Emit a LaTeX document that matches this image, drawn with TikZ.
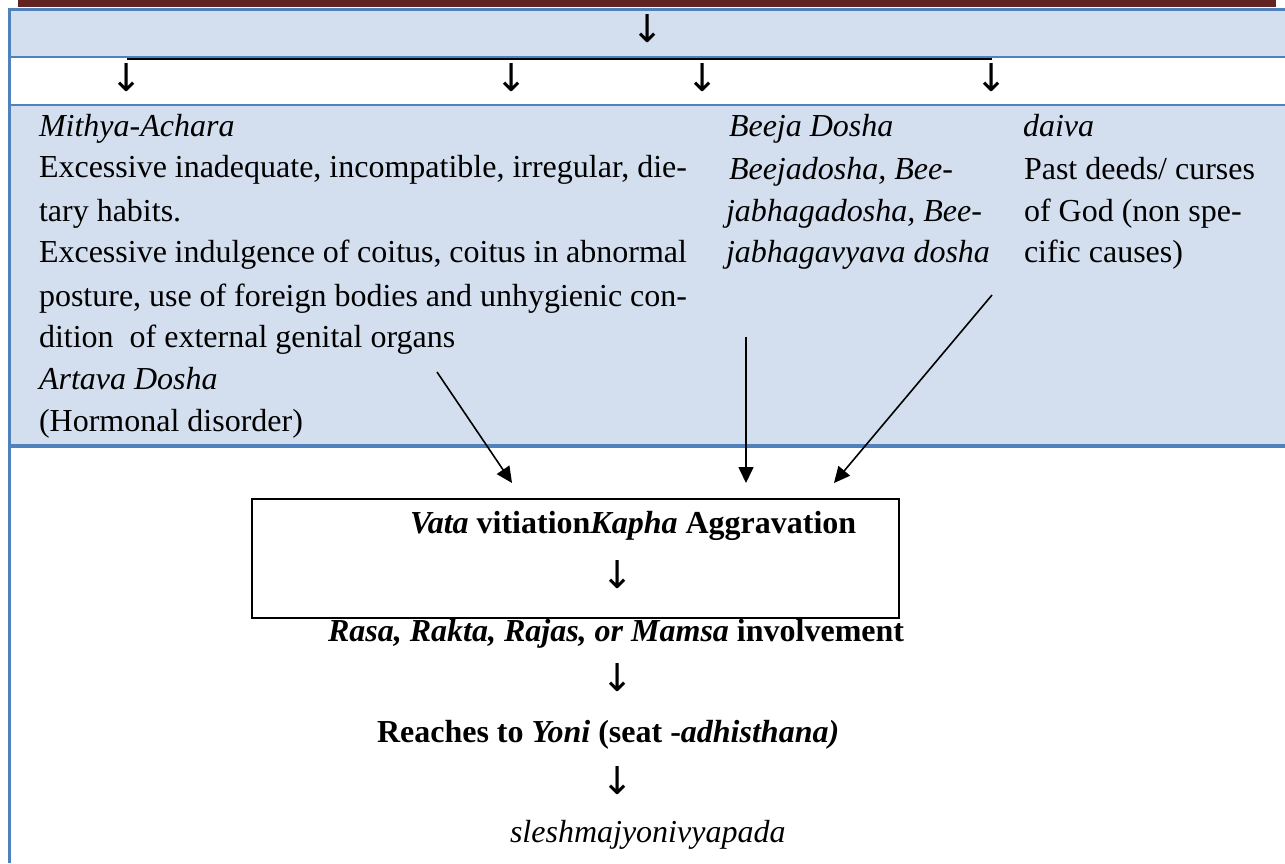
\documentclass[tikz,border=0pt]{standalone}
\usepackage{fontspec}
\setmainfont{Liberation Serif}
\newfontfamily\arrowfont{DejaVu Sans}
\usetikzlibrary{arrows.meta}
\definecolor{rowblue}{HTML}{D3DFEE}
\definecolor{lineblue}{HTML}{4F81BD}
\definecolor{bandred}{HTML}{622423}
\newcommand{\dnarrow}{\resizebox{!}{28pt}{\arrowfont ↓}}
\tikzset{
  txt/.style={anchor=base west, inner sep=0pt, outer sep=0pt, font=\fontsize{32}{42}\selectfont},
  darr/.style={anchor=north, inner sep=0pt, outer sep=0pt, font=\fontsize{32}{42}\selectfont},
  conn/.style={line width=1.6pt, -{Triangle[length=16pt,width=15pt]}},
  bluerule/.style={draw=lineblue, line width=2.5pt},
  flowbox/.style={draw=black, line width=2.2pt, minimum width=647pt, minimum height=119pt, inner sep=0pt},
}
\begin{document}
\begin{tikzpicture}[x=1pt,y=-1pt]
\useasboundingbox (0,0) rectangle (1285,863);
% background bands
\fill[bandred] (18,0) rectangle (1276,7);
\fill[rowblue] (9.5,9.5) rectangle (1285,57);
\fill[rowblue] (9.5,105) rectangle (1285,446);
% table rules
\draw[bluerule] (9.5,9.5) -- (1285,9.5);
\draw[bluerule] (9.5,57) -- (1285,57);
\draw[bluerule] (9.5,105) -- (1285,105);
\draw[bluerule, line width=3.2pt] (9.5,446) -- (1285,446);
\draw[bluerule, line width=3pt] (9.5,8) -- (9.5,863);
% top arrows
\node[darr] (d0) at (648,14) {\dnarrow};
\coordinate (rl) at (127,59);
\coordinate (rr) at (992,59);
\draw[line width=2pt] (rl) -- (rr);
\node[darr] (d1) at (127,63) {\dnarrow};
\node[darr] (d2) at (512,63) {\dnarrow};
\node[darr] (d3) at (703,63) {\dnarrow};
\node[darr] (d4) at (992,63) {\dnarrow};
% column 1
\node[txt] (m1) at (39,136) {\textit{Mithya-Achara}};
\node[txt] (m2) at (39,177) {\makebox[648pt][s]{Excessive inadequate, incompatible, irregular, die-}};
\node[txt] (m3) at (39,221) {tary habits.};
\node[txt] (m4) at (39,262) {\makebox[648pt][s]{Excessive indulgence of coitus, coitus in abnormal}};
\node[txt] (m5) at (39,306) {\makebox[648pt][s]{posture, use of foreign bodies and unhygienic con-}};
\node[txt] (m6) at (39,347) {dition\ \ of external genital organs};
\node[txt] (m7) at (39,389) {\textit{Artava Dosha}};
\node[txt] (m8) at (39,431) {(Hormonal disorder)};
% column 2
\node[txt] (b1) at (729,136) {\textit{Beeja Dosha}};
\node[txt] (b2) at (729,179) {\textit{Beejadosha, Bee-}};
\node[txt] (b3) at (726,221) {\textit{jabhagadosha, Bee-}};
\node[txt] (b4) at (726,262) {\textit{jabhagavyava dosha}};
% column 3
\node[txt] (c1) at (1023,136) {\textit{daiva}};
\node[txt] (c2) at (1024,179) {Past deeds/ curses};
\node[txt] (c3) at (1024,221) {of God (non spe-};
\node[txt] (c4) at (1024,262) {cific causes)};
% flow box
\node[flowbox] (box) at (575.5,558.5) {};
\node[txt] (v1) at (410,533) {\bfseries\textit{Vata} vitiation\textit{Kapha} Aggravation};
\node[darr] (d5) at (618,560) {\dnarrow};
\node[txt] (r1) at (328,641) {\bfseries\textit{Rasa, Rakta, Rajas, or Mamsa} involvement};
\node[darr] (d6) at (618,663) {\dnarrow};
\node[txt] (y1) at (377,742) {\bfseries Reaches to \textit{Yoni} (seat -\textit{adhisthana)}};
\node[darr] (d7) at (618,766) {\dnarrow};
\node[txt] (s1) at (510,842) {\textit{sleshmajyonivyapada}};
% connectors into the box
\coordinate (p1s) at (437,372);
\coordinate (p1e) at (512,483);
\coordinate (p2s) at (746,337);
\coordinate (p2e) at (746,483);
\coordinate (p3s) at (992,295);
\coordinate (p3e) at (834,483);
\draw[conn] (p1s) -- (p1e);
\draw[conn] (p2s) -- (p2e);
\draw[conn] (p3s) -- (p3e);
\end{tikzpicture}
\end{document}
